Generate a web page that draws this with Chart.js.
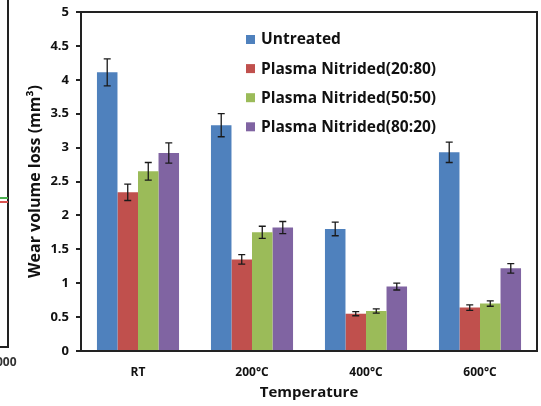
<!DOCTYPE html>
<html>
<head>
<meta charset="utf-8">
<script src="https://cdn.jsdelivr.net/npm/chart.js@4.4.0/dist/chart.umd.min.js"></script>
<style>
  html, body { margin: 0; padding: 0; background: #fff; }
  #wrap { position: relative; width: 541px; height: 406px; overflow: hidden; }
  canvas { position: absolute; left: 0; top: 0; }
  /* edge of the neighbouring panel that was cropped into the picture */
  .frag-v { position: absolute; left: 7px; top: 0; width: 2px; height: 348px; background: #222; }
  .frag-h { position: absolute; left: 0; top: 346px; width: 9px; height: 2px; background: #222; }
  .frag-t { position: absolute; left: -4px; top: 353px; font: bold 12px "Open Sans", sans-serif; color: #333; }
  .frag-g { position: absolute; left: 0; top: 197px; width: 8px; height: 2px; background: #4caf50; }
  .frag-r { position: absolute; left: 0; top: 201px; width: 8px; height: 2px; background: #d9534f; }
</style>
</head>
<body>
<div id="wrap">
  <canvas id="c" width="541" height="406"></canvas>
  <div class="frag-v"></div><div class="frag-h"></div><div class="frag-g"></div><div class="frag-r"></div>
  <div class="frag-t">000</div>
</div>
<script>
// ─── Data ───
const categories = ['RT', '200°C', '400°C', '600°C'];
const seriesNames = ['Untreated', 'Plasma Nitrided(20:80)', 'Plasma Nitrided(50:50)', 'Plasma Nitrided(80:20)'];
const untreated = [4.11, 3.33, 1.80, 2.93];
const pn2080 = [2.34, 1.35, 0.55, 0.64];
const pn5050 = [2.65, 1.75, 0.59, 0.70];
const pn8020 = [2.92, 1.82, 0.95, 1.22];
const errUntreated = [0.20, 0.17, 0.10, 0.15];
const err2080 = [0.12, 0.07, 0.03, 0.04];
const err5050 = [0.13, 0.09, 0.03, 0.04];
const err8020 = [0.15, 0.09, 0.05, 0.07];
const colors = ['#4F81BD', '#C0504D', '#9BBB59', '#8064A2'];

const FONT = '"Open Sans", sans-serif';
const values = [untreated, pn2080, pn5050, pn8020];
const errors = [errUntreated, err2080, err5050, err8020];

// ─── Plugins ───
const frameBox = {
  id: 'frameBox',
  afterDatasetsDraw(chart) {
    const { ctx, chartArea: a } = chart;
    ctx.save();
    ctx.strokeStyle = '#222';
    ctx.lineWidth = 2;
    ctx.strokeRect(a.left, a.top, a.right - a.left, a.bottom - a.top);
    ctx.restore();
  }
};

const errorBars = {
  id: 'errorBars',
  afterDatasetsDraw(chart) {
    const { ctx } = chart;
    const ys = chart.scales.y;
    ctx.save();
    ctx.strokeStyle = '#1a1a1a';
    ctx.lineWidth = 1.3;
    chart.data.datasets.forEach((ds, i) => {
      chart.getDatasetMeta(i).data.forEach((bar, j) => {
        const v = ds.data[j], e = ds.err[j];
        const yt = ys.getPixelForValue(v + e), yb = ys.getPixelForValue(v - e);
        ctx.beginPath();
        ctx.moveTo(bar.x, yt); ctx.lineTo(bar.x, yb);
        ctx.moveTo(bar.x - 3.5, yt); ctx.lineTo(bar.x + 3.5, yt);
        ctx.moveTo(bar.x - 3.5, yb); ctx.lineTo(bar.x + 3.5, yb);
        ctx.stroke();
      });
    });
    ctx.restore();
  }
};

const insideLegend = {
  id: 'insideLegend',
  afterDraw(chart) {
    const { ctx } = chart;
    ctx.save();
    ctx.font = 'bold 15.5px ' + FONT;
    ctx.textBaseline = 'middle';
    chart.data.datasets.forEach((ds, i) => {
      const y = 39.5 + i * 29.1;
      ctx.fillStyle = ds.backgroundColor;
      ctx.fillRect(246, y - 4.5, 9, 9);
      ctx.fillStyle = '#111';
      ctx.fillText(ds.label, 261, y + 0.5);
    });
    ctx.restore();
  }
};

// ─── Chart ───
new Chart(document.getElementById('c'), {
  type: 'bar',
  data: {
    labels: categories,
    datasets: seriesNames.map((name, i) => ({
      label: name,
      data: values[i],
      err: errors[i],
      backgroundColor: colors[i],
      borderWidth: 0,
      barPercentage: 1,
      categoryPercentage: 0.72
    }))
  },
  options: {
    responsive: false,
    animation: false,
    layout: { padding: { left: 26, right: 4, top: 12, bottom: 0 } },
    plugins: { legend: { display: false }, tooltip: { enabled: false } },
    scales: {
      x: {
        grid: { display: false },
        border: { color: '#222', width: 2 },
        ticks: { color: '#111', font: { family: FONT, size: 12, weight: 'bold' }, padding: 6 },
        title: { display: true, text: 'Temperature', color: '#111', font: { family: FONT, size: 15, weight: 'bold' }, padding: { top: 9 } },
        afterFit: s => { s.height = 55; }
      },
      y: {
        min: 0, max: 5,
        ticks: { stepSize: 0.5, color: '#111', font: { family: FONT, size: 13, weight: 'bold' }, padding: 7, callback: v => String(+v.toFixed(1)) },
        grid: { drawOnChartArea: false, drawTicks: true, tickLength: 5, color: '#222', lineWidth: 2 },
        border: { color: '#222', width: 2 },
        title: { display: true, text: 'Wear volume loss (mm³)', color: '#111', font: { family: FONT, size: 16, weight: 'bold' }, padding: 0 },
        afterFit: s => { s.width = 55; s.paddingTop = 0; s.paddingBottom = 0; }
      }
    }
  },
  plugins: [frameBox, errorBars, insideLegend]
});
</script>
</body>
</html>
